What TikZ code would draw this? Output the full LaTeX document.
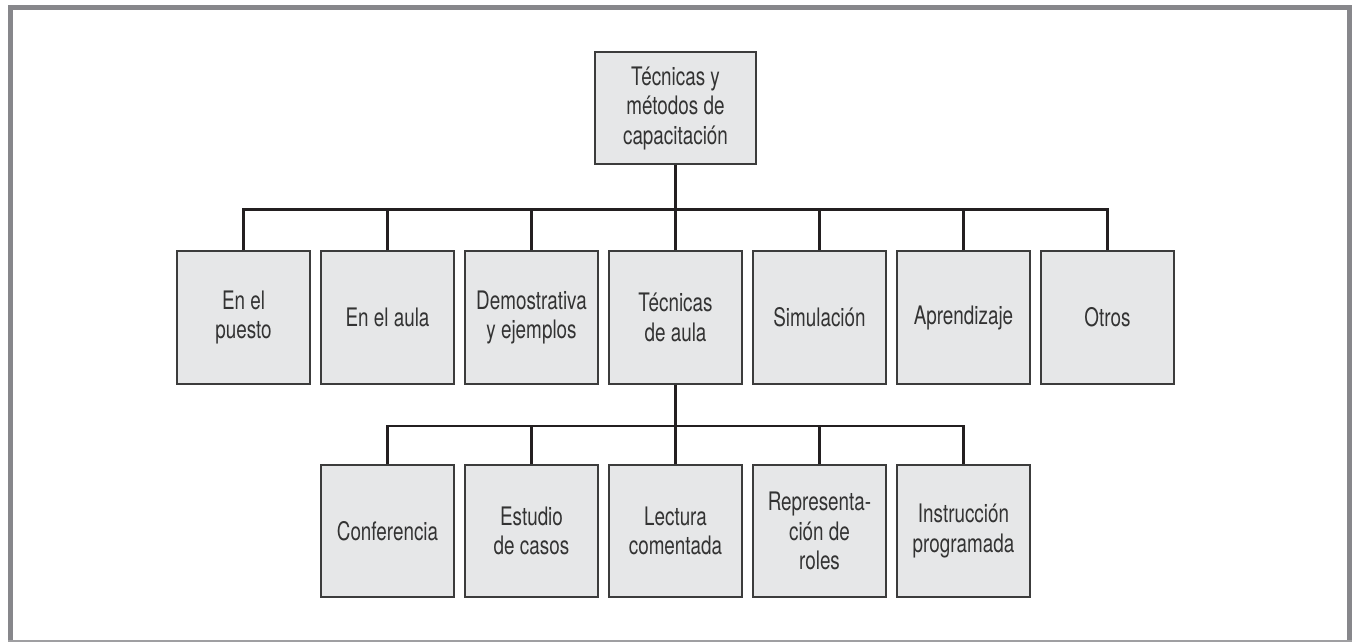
\documentclass[tikz,border=0pt]{standalone}
\usepackage{fontspec}
\setmainfont{TeX Gyre Heros}[FakeStretch=0.74]
\definecolor{framegray}{HTML}{87878B}
\definecolor{boxfill}{HTML}{E6E7E8}
\definecolor{boxline}{HTML}{3C3C3C}
\definecolor{wire}{HTML}{231F20}
\definecolor{txt}{HTML}{333333}
\begin{document}
\begin{tikzpicture}[x=1pt,y=-1pt,
  box/.style={draw=boxline, fill=boxfill, line width=1.3pt, minimum width=133pt, minimum height=133pt,
    inner sep=0pt, align=center, text=txt, font=\fontsize{25.5}{29.5}\selectfont},
  conn/.style={draw=wire, line width=2.7pt, line join=miter}]
\useasboundingbox (0,0) rectangle (1352,642);
% frame
\fill[framegray] (8,5) rectangle (1352,10);
\fill[framegray] (8,5) rectangle (13,642);
\fill[framegray] (1347,5) rectangle (1352,642);
\fill[framegray!80] (8,640) rectangle (1352,642);
% top
\node[box, minimum width=161pt, minimum height=112pt] (top) at (675.5,108) {Técnicas y\\métodos de\\capacitación};
% level 2
\node[box] (a1) at (243.5,317.5) {En el\\puesto};
\node[box] (a2) at (387.5,317.5) {En el aula};
\node[box] (a3) at (531.5,317.5) {Demostrativa\\y ejemplos};
\node[box] (a4) at (675.5,317.5) {Técnicas\\de aula};
\node[box] (a5) at (819.5,317.5) {Simulación};
\node[box] (a6) at (963.5,317.5) {Aprendizaje};
\node[box] (a7) at (1107.5,317.5) {Otros};
% level 3
\node[box, minimum height=132pt] (c1) at (387.5,531) {Conferencia};
\node[box, minimum height=132pt] (c2) at (531.5,531) {Estudio\\de casos};
\node[box, minimum height=132pt] (c3) at (675.5,531) {Lectura\\comentada};
\node[box, minimum height=132pt] (c4) at (819.5,531) {Representa-\\ción de\\roles};
\node[box, minimum height=132pt] (c5) at (963.5,531) {Instrucción\\programada};
% connectors
\coordinate (busA) at (675.5,209.5);
\coordinate (busB) at (675.5,426);
\draw[conn] (top.south) -- (busA);
\draw[conn] (a1.north) -- (a1.north |- busA) -- (a7.north |- busA) -- (a7.north);
\foreach \n in {a2,a3,a4,a5,a6} \draw[conn] (\n.north) -- (\n.north |- busA);
\draw[conn] (a4.south) -- (busB);
\draw[conn] (c1.north) -- (c1.north |- busB) -- (c5.north |- busB) -- (c5.north);
\foreach \n in {c2,c3,c4} \draw[conn] (\n.north) -- (\n.north |- busB);
\end{tikzpicture}
\end{document}
